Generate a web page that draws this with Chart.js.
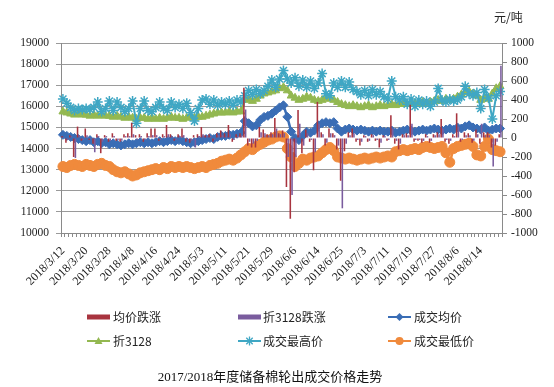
<!DOCTYPE html>
<html>
<head>
<meta charset="utf-8">
<script src="https://cdn.jsdelivr.net/npm/chart.js@4.4.1/dist/chart.umd.min.js"></script>
<style>
  html,body{margin:0;padding:0;background:#fff;}
  #wrap{position:relative;width:554px;height:387px;overflow:hidden;}
  canvas{position:absolute;left:0;top:0;}
  .t{position:absolute;font-family:"Noto Sans CJK SC","Liberation Sans",sans-serif;font-size:12px;color:#222;line-height:14px;white-space:nowrap;}
  .m{position:absolute;}
  #title{position:absolute;left:0;width:540px;text-align:center;top:369px;font-family:"Liberation Serif","Noto Sans CJK SC",serif;font-size:13px;color:#111;line-height:16px;}
</style>
</head>
<body>
<div id="wrap">
<canvas id="c" width="554" height="387"></canvas>
<div class="t" style="left:494px;top:10px;font-size:12px;">元/吨</div>

<svg class="m" style="left:87px;top:311px" width="24" height="12"><rect x="0" y="3.5" width="23" height="5" fill="#A8343F"/></svg>
<div class="t" style="left:113px;top:310px">均价跌涨</div>
<svg class="m" style="left:238px;top:311px" width="24" height="12"><rect x="0" y="3.5" width="23" height="5" fill="#7A5C9E"/></svg>
<div class="t" style="left:263px;top:310px">折3128跌涨</div>
<svg class="m" style="left:388px;top:311px" width="24" height="12"><line x1="0" y1="6" x2="23" y2="6" stroke="#3A6DB5" stroke-width="2"/><polygon points="11.5,2 15.5,6 11.5,10 7.5,6" fill="#3A6DB5"/></svg>
<div class="t" style="left:414px;top:310px">成交均价</div>

<svg class="m" style="left:87px;top:335px" width="24" height="12"><line x1="0" y1="6" x2="23" y2="6" stroke="#93B851" stroke-width="2"/><polygon points="11.5,2 15.5,9 7.5,9" fill="#93B851"/></svg>
<div class="t" style="left:113px;top:334px">折3128</div>
<svg class="m" style="left:238px;top:335px" width="24" height="12"><line x1="0" y1="6" x2="23" y2="6" stroke="#3FA7C4" stroke-width="2"/><g stroke="#3FA7C4" stroke-width="1.3"><line x1="11.5" y1="1.5" x2="11.5" y2="10.5"/><line x1="7" y1="6" x2="16" y2="6"/><line x1="8.3" y1="2.8" x2="14.7" y2="9.2"/><line x1="14.7" y1="2.8" x2="8.3" y2="9.2"/></g></svg>
<div class="t" style="left:263px;top:334px">成交最高价</div>
<svg class="m" style="left:388px;top:335px" width="24" height="12"><line x1="0" y1="6" x2="23" y2="6" stroke="#F08A3C" stroke-width="2"/><circle cx="11.5" cy="6" r="4" fill="#F08A3C"/></svg>
<div class="t" style="left:414px;top:334px">成交最低价</div>

<div id="title">2017/2018年度储备棉轮出成交价格走势</div>
</div>
<script>
const dates = ['2018/3/12','2018/3/13','2018/3/14','2018/3/15','2018/3/16','2018/3/19','2018/3/20','2018/3/21','2018/3/22','2018/3/23','2018/3/26','2018/3/27','2018/3/28','2018/3/29','2018/3/30','2018/4/2','2018/4/3','2018/4/4','2018/4/8','2018/4/9','2018/4/10','2018/4/11','2018/4/12','2018/4/13','2018/4/16','2018/4/17','2018/4/18','2018/4/19','2018/4/20','2018/4/23','2018/4/24','2018/4/25','2018/4/26','2018/4/27','2018/4/28','2018/5/2','2018/5/3','2018/5/4','2018/5/7','2018/5/8','2018/5/9','2018/5/10','2018/5/11','2018/5/14','2018/5/15','2018/5/16','2018/5/17','2018/5/18','2018/5/21','2018/5/22','2018/5/23','2018/5/24','2018/5/25','2018/5/28','2018/5/29','2018/5/30','2018/5/31','2018/6/1','2018/6/4','2018/6/5','2018/6/6','2018/6/7','2018/6/8','2018/6/11','2018/6/12','2018/6/13','2018/6/14','2018/6/15','2018/6/19','2018/6/20','2018/6/21','2018/6/22','2018/6/25','2018/6/26','2018/6/27','2018/6/28','2018/6/29','2018/7/2','2018/7/3','2018/7/4','2018/7/5','2018/7/6','2018/7/9','2018/7/10','2018/7/11','2018/7/12','2018/7/13','2018/7/16','2018/7/17','2018/7/18','2018/7/19','2018/7/20','2018/7/23','2018/7/24','2018/7/25','2018/7/26','2018/7/27','2018/7/30','2018/7/31','2018/8/1','2018/8/2','2018/8/3','2018/8/6','2018/8/7','2018/8/8','2018/8/9','2018/8/10','2018/8/13','2018/8/14','2018/8/15','2018/8/16','2018/8/17','2018/8/20','2018/8/21'];

// 均价跌涨 (right axis)
const avgChange = [20,-50,30,-200,120,-30, 100,-20,-60,40,-160,30, -40,50,-30,-40,40,50, 160,30,40,-40,50,100, 100,-30,40,137,40,-30, 40,100,-40,-50,30,40, 116,30,40,-40,50,80, 50,137,-40,40,50,530, -80,-100,-100,116,90,40, 60,210,50,80,-516,-850, -360,295,-160,90,-40,-340, 380,60,-80,100,50,-120, -450,-140,60,100,-40,-80, 30,-40,40,-30,-100,30, -30,240,-60,-120,40,50, 350,-40,-30,-50,40,-50, 40,60,200,-40,-60,40, 260,-40,60,50,-50,90, -60,60,60,-100,-80,40];

// 折3128跌涨 (right axis)
const c3128Change = [10,-20,20,-210,30,-20, 30,-10,-150,20,-40,20, -30,20,-20,-30,20,20, 40,-20,20,-20,20,30, 30,-20,20,40,20,-20, 20,30,-20,-30,-100,20, 40,20,20,-20,30,30, 20,40,-20,20,30,300, -40,-60,-30,60,50,30, 40,100,40,50,-200,-600, -200,150,-80,50,-20,-150, 150,40,-50,50,30,-80, -740,-60,30,50,-20,-40, 20,-30,30,-20,-50,20, -20,100,-30,-60,30,30, 150,-20,-20,-30,20,-30, 30,40,100,-20,-30,20, 120,-20,30,30,-30,40, 150,30,30,-300,-40,760];

// 成交均价
const avgPrice = [14650,14600,14550,14500,14450,14400, 14350,14400,14300,14350,14250,14300, 14200,14250,14200,14150,14200,14250, 14200,14250,14300,14250,14300,14250, 14300,14350,14300,14350,14400,14350, 14400,14350,14300,14250,14300,14350, 14400,14450,14500,14450,14550,14600, 14600,14650,14650,14700,14750,15300, 15200,15050,15100,15350,15500,15550, 15650,15800,15950,16050,15500,14800, 14500,14400,14600,14800,14750,14850, 15100,15200,15250,15200,15250,14950, 14800,14900,14950,14900,14850,14900, 14850,14800,14850,14800,14850,14800, 14800,14850,14750,14800,14850,14900, 14850,14800,14850,14900,14850,14900, 14950,14900,14850,14900,14950,14900, 15000,14950,15050,15100,15000,14950, 14900,15000,14850,14900,14950,14950];

// 折3128
const price3128 = [15750,15700,15650,15600,15650,15600, 15600,15550,15600,15550,15600,15550, 15550,15500,15550,15500,15450,15500, 15450,15400,15450,15450,15400,15450, 15400,15450,15400,15450,15500,15450, 15450,15400,15450,15500,15450,15500, 15500,15550,15600,15650,15700,15700, 15700,15750,15700,15750,15750,16300, 16350,16250,16350,16500,16600,16650, 16700,16750,16850,16900,16750,16500, 16400,16300,16350,16450,16400,16300, 16250,16300,16400,16350,16300,16200, 16100,16050,16000,16050,16000,15950, 16000,16050,15950,16000,16050,16000, 16050,16100,16050,16100,16150,16100, 16100,16150,16100,16200,16150,16200, 16250,16300,16250,16350,16300,16350, 16450,16550,16650,16700,16600,16500, 16300,16400,16350,16600,16850,16950];

// 成交最高价
const highPrice = [16350,16150,15950,15800,15900,15850, 15900,15850,15950,16200,15750,15900, 16250,15800,16200,15950,15750,15900, 16250,15200,15900,16250,15800,15750, 15950,16200,15900,15800,16200,15950, 16100,15900,16150,15700,15300,15900, 16300,16350,16100,16300,16050,16200, 16100,16250,16050,16300,16200,16500, 16750,16550,16800,16600,16750,16950, 17250,16900,17300,17700,17300,17100, 17350,16950,17250,16900,17200,16850, 17100,17550,16600,16500,17100,16900, 17200,16900,17150,16800,16700,16550, 16750,16500,16800,16550,16700,16450, 16350,17200,16450,16300,16450,16100, 16350,16000,16300,16100,16250,16000, 16200,16850,16300,16200,16350,16250, 16300,16450,16950,16600,16500,16650, 15900,16800,16400,15400,16500,16700];

// 成交最低价
const lowPrice = [13150,13100,13200,13250,13200,13150, 13250,13200,13150,13250,13300,13200, 13150,13000,12900,12850,12900,12800, 12700,12750,12850,12900,12950,13000, 13050,13000,13100,13050,13150,13100, 13150,13100,13150,13100,13050,13100, 13150,13100,13200,13250,13300,13400, 13450,13500,13450,13550,13700,13850, 14000,13950,14100,14200,14300,14400, 14450,14550,14600,14550,14000,13600, 13150,13300,13500,13450,13550,13600, 13650,13800,13950,14050,13900,13600, 13550,13500,13550,13500,13450,13500, 13550,13500,13550,13600,13550,13600, 13650,13600,13850,13900,13950,13900, 13950,14000,13950,14050,14100,14050, 14000,14050,14100,13800,13350,14000, 14100,14150,14200,14250,14100,13700, 13650,14100,14450,13950,13900,13850];

const leftTicks = {min:10000, max:19000, step:1000};
const rightTicks = {min:-1000, max:1000, step:200};

const serif = "'Liberation Serif','Times New Roman',serif";
const gridColor = '#9a9a9a';
const axisColor = '#8a8a8a';
const plain = function(v){ return String(v); };

new Chart(document.getElementById('c'), {
  type: 'bar',
  data: {
    labels: dates,
    datasets: [
      {type:'bar', label:'均价跌涨', data:avgChange, yAxisID:'y1', backgroundColor:'#A8343F', barPercentage:0.9, categoryPercentage:0.9, order:0},
      {type:'bar', label:'折3128跌涨', data:c3128Change, yAxisID:'y1', backgroundColor:'#7A5C9E', barPercentage:0.9, categoryPercentage:0.9, order:1},
      {type:'line', label:'成交均价', data:avgPrice, yAxisID:'y', borderColor:'#3A6DB5', backgroundColor:'#3A6DB5', borderWidth:2.5, pointStyle:'rectRot', pointRadius:4.5, pointBorderWidth:1, tension:0, order:5},
      {type:'line', label:'折3128', data:price3128, yAxisID:'y', borderColor:'#93B851', backgroundColor:'#93B851', borderWidth:2.5, pointStyle:'triangle', pointRadius:4.6, pointBorderWidth:1, tension:0, order:4},
      {type:'line', label:'成交最高价', data:highPrice, yAxisID:'y', borderColor:'#3FA7C4', backgroundColor:'#3FA7C4', borderWidth:2, pointStyle:'star', pointRadius:5, pointBorderWidth:1.5, tension:0, order:3},
      {type:'line', label:'成交最低价', data:lowPrice, yAxisID:'y', borderColor:'#F08A3C', backgroundColor:'#F08A3C', borderWidth:2.5, pointStyle:'circle', pointRadius:5, pointBorderWidth:1, tension:0, order:2}
    ]
  },
  options: {
    responsive:false, animation:false, devicePixelRatio:1,
    layout:{padding:{top:43, left:0, right:0, bottom:0}},
    plugins:{legend:{display:false}, tooltip:{enabled:false}, title:{display:false}},
    scales:{
      x:{
        type:'category', offset:true,
        grid:{offset:true, drawOnChartArea:false, drawTicks:true, tickLength:4, color:axisColor},
        border:{color:axisColor},
        ticks:{autoSkip:false, maxRotation:45, minRotation:45, padding:7, color:'#222',
          font:{family:serif, size:12},
          callback:function(v,i){ return i % 6 === 0 ? dates[i] : ''; }},
        afterFit:function(s){ s.height = 154; }
      },
      y:{
        position:'left', min:leftTicks.min, max:leftTicks.max,
        ticks:{stepSize:leftTicks.step, color:'#222', padding:7, font:{family:serif, size:11.5}, callback:plain},
        grid:{color:gridColor, tickLength:5, drawTicks:true},
        border:{color:axisColor},
        afterFit:function(s){ s.width = 61; }
      },
      y1:{
        position:'right', min:rightTicks.min, max:rightTicks.max,
        ticks:{stepSize:rightTicks.step, color:'#222', padding:4, font:{family:serif, size:11.5}, callback:plain},
        grid:{drawOnChartArea:false, tickLength:5, color:axisColor},
        border:{color:axisColor},
        afterFit:function(s){ s.width = 52; }
      }
    }
  }
});
</script>
</body>
</html>
